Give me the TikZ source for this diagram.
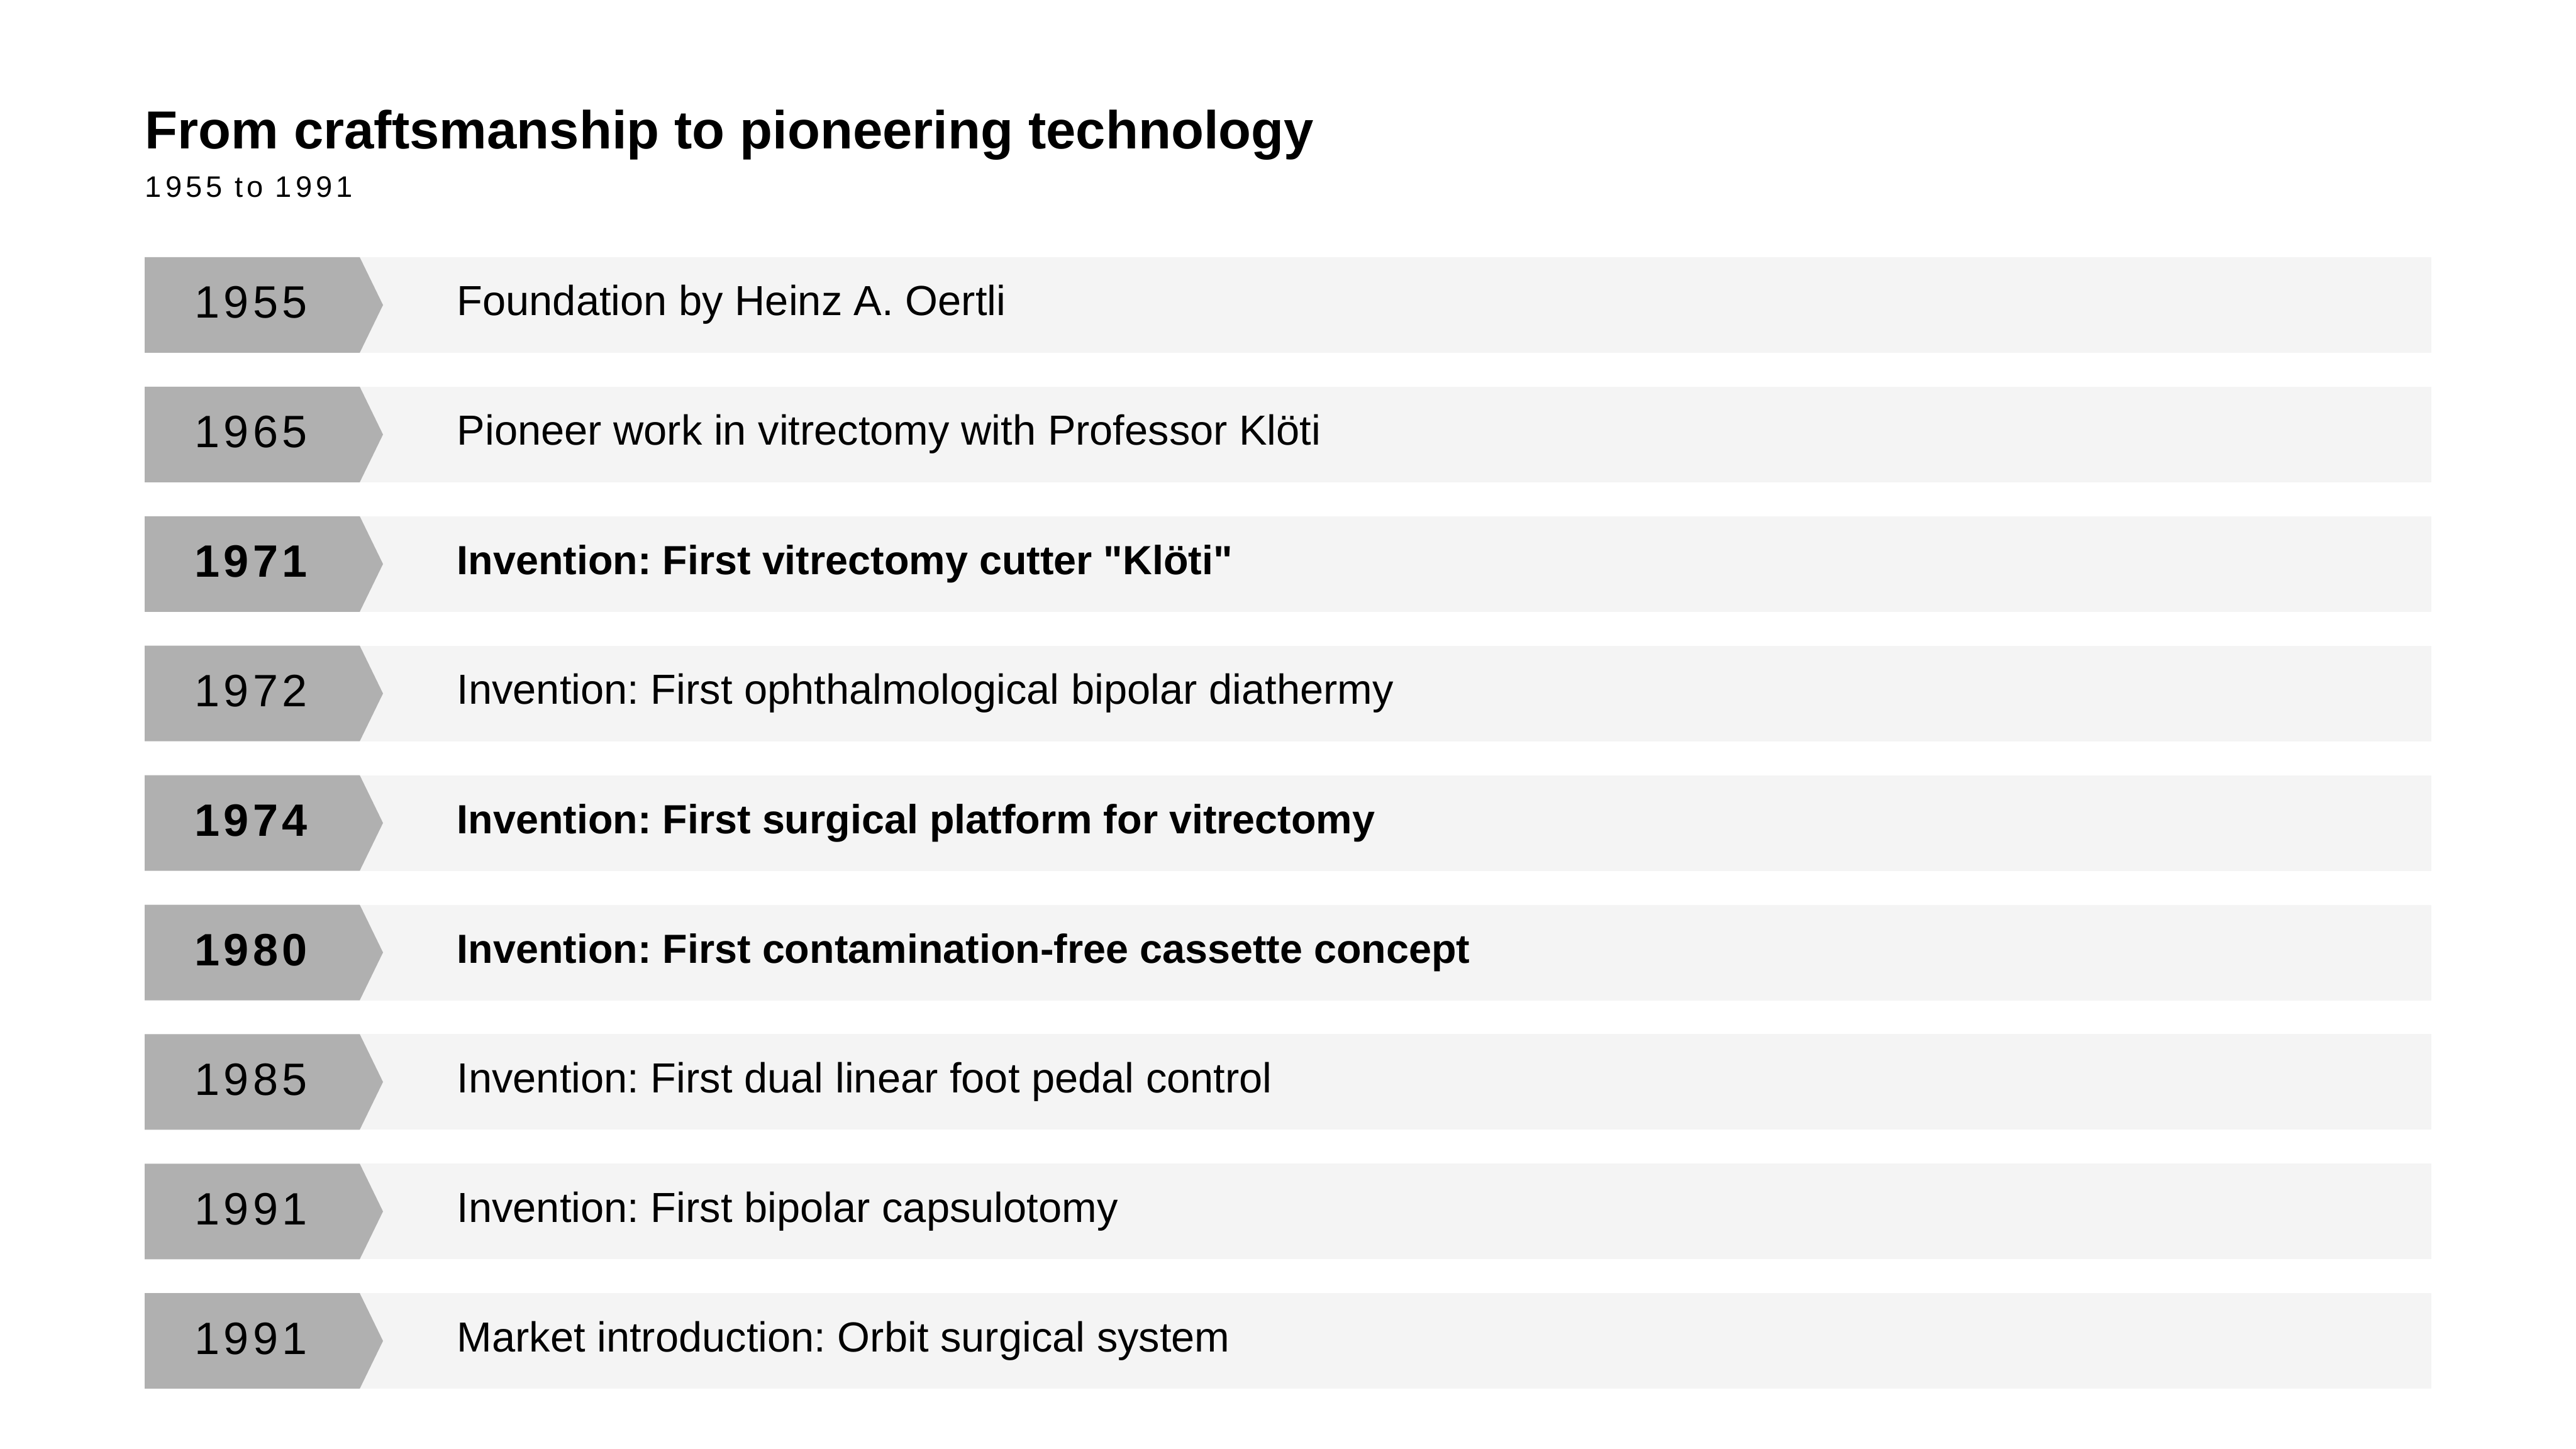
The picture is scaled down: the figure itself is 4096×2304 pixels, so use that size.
\documentclass[tikz,border=0pt]{standalone}
\usepackage{fontspec}
\setmainfont{Liberation Sans}[Ligatures=TeXOff]
\newfontfamily\yearfont{Liberation Sans}[LetterSpace=9]
\newfontfamily\subfont{Liberation Sans}[LetterSpace=13]
\frenchspacing
\definecolor{yeargrey}{HTML}{B0B0B0}
\definecolor{barfill}{HTML}{F4F4F4}

\tikzset{
	titlelabel/.style={anchor=base west, inner sep=0pt, font=\bfseries\fontsize{24.2}{28}\selectfont},
	sublabel/.style={anchor=base west, inner sep=0pt, font=\subfont\fontsize{13.4}{16}\selectfont},
	yearplain/.style={anchor=base, inner sep=0pt, font=\yearfont\fontsize{20.5}{24}\selectfont},
	yearstrong/.style={yearplain, font=\yearfont\bfseries\fontsize{20.5}{24}\selectfont},
	eventplain/.style={anchor=base west, inner sep=0pt, font=\fontsize{19}{22}\selectfont},
	eventstrong/.style={eventplain, font=\bfseries\fontsize{18.4}{22}\selectfont},
}

\begin{document}
\begin{tikzpicture}[x=0.01cm,y=-0.01cm]
			\useasboundingbox (0,0) rectangle (4096,2304);
			\fill[white] (0,0) rectangle (4096,2304);
			
			\node[titlelabel] (title) at (230,237) {From craftsmanship to pioneering technology};
			\node[sublabel] (subtitle) at (230,314) {1955 to 1991};
			
			% one bar per year
			\foreach \yr/\txt/\kind [count=\i from 0] in {
				1955/{Foundation by Heinz A. Oertli}/plain,
				1965/{Pioneer work in vitrectomy with Professor Klöti}/plain,
				1971/{Invention: First vitrectomy cutter "Klöti"}/strong,
				1972/{Invention: First ophthalmological bipolar diathermy}/plain,
				1974/{Invention: First surgical platform for vitrectomy}/strong,
				1980/{Invention: First contamination-free cassette concept}/strong,
				1985/{Invention: First dual linear foot pedal control}/plain,
				1991/{Invention: First bipolar capsulotomy}/plain,
				1991/{Market introduction: Orbit surgical system}/plain} {
				\pgfmathsetmacro{\rowtop}{409+205.9*\i}
				\fill[barfill] (572,\rowtop) rectangle (3866,\rowtop+152);
				\fill[yeargrey] (230,\rowtop) -- (572,\rowtop) -- (609,\rowtop+76) -- (572,\rowtop+152) -- (230,\rowtop+152) -- cycle;
				\node[year\kind] (year\i) at (399,\rowtop+97) {\yr};
				\node[event\kind] (event\i) at (726,\rowtop+93) {\txt};
			}
\end{tikzpicture}
\end{document}
